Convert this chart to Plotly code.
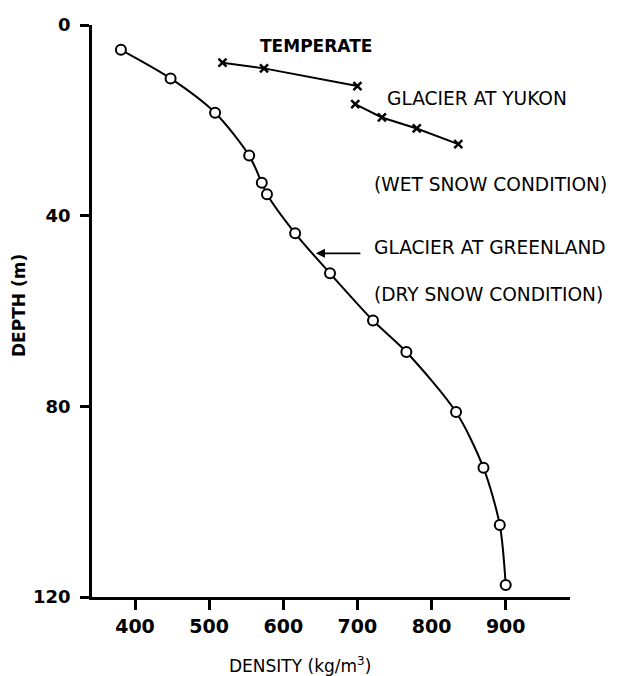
import plotly.graph_objects as go

# Glacier at Greenland (dry snow condition)
greenland_density = [381, 448, 508, 554, 571, 578, 616, 663, 721, 766, 833, 870, 892, 900]
greenland_depth = [5.2, 11.2, 18.4, 27.4, 33.1, 35.5, 43.7, 52.1, 62.0, 68.6, 81.2, 92.9, 104.9, 117.5]

# Temperate glacier at Yukon (wet snow condition) - two segments
yukon_upper_density = [518, 574, 700]
yukon_upper_depth = [7.9, 9.1, 12.8]
yukon_lower_density = [697, 733, 780, 836]
yukon_lower_depth = [16.6, 19.4, 21.7, 25.0]

x_ticks = [400, 500, 600, 700, 800, 900]
y_ticks = [0, 40, 80, 120]
y_ticktext = ["0", "40", "80", "120"]

FONT = "DejaVu Sans"

fig = go.Figure()

fig.add_trace(go.Scatter(
    x=greenland_density, y=greenland_depth, mode="lines+markers",
    line=dict(color="black", width=2, shape="spline", smoothing=0.8),
    marker=dict(symbol="circle", size=10, color="white",
                line=dict(color="black", width=2)),
    showlegend=False, hoverinfo="skip"))

for xs, ys in [(yukon_upper_density, yukon_upper_depth),
               (yukon_lower_density, yukon_lower_depth)]:
    fig.add_trace(go.Scatter(
        x=xs, y=ys, mode="lines+markers",
        line=dict(color="black", width=2),
        marker=dict(symbol="x-thin", size=8, color="black",
                    line=dict(color="black", width=2.5)),
        showlegend=False, hoverinfo="skip"))

ann_font = dict(family=FONT, size=18.6, color="black")
annotations = [
    dict(x=566, y=4.3, text="<b>TEMPERATE</b>", xanchor="left", yanchor="middle",
         showarrow=False, font=dict(family=FONT, size=17, color="black")),
    dict(x=737, y=15.5, text="GLACIER AT YUKON", xanchor="left", yanchor="middle",
         showarrow=False, font=ann_font),
    dict(x=720, y=33.5, text="(WET SNOW CONDITION)", xanchor="left", yanchor="middle",
         showarrow=False, font=ann_font),
    dict(x=720, y=46.7, text="GLACIER AT GREENLAND", xanchor="left", yanchor="middle",
         showarrow=False, font=ann_font),
    dict(x=720, y=56.5, text="(DRY SNOW CONDITION)", xanchor="left", yanchor="middle",
         showarrow=False, font=ann_font),
    dict(x=644, y=47.9, ax=706, ay=47.9, axref="x", ayref="y", text="",
         showarrow=True, arrowhead=2, arrowsize=1, arrowwidth=1.8, arrowcolor="black"),
    dict(xref="paper", yref="paper", x=0.435, y=-0.119, text="DENSITY (kg/m<sup>3</sup>)",
         xanchor="center", yanchor="middle", showarrow=False,
         font=dict(family=FONT, size=17, color="black")),
    dict(xref="paper", yref="paper", x=-0.1527, y=0.5087, text="<b>DEPTH (m)</b>",
         textangle=-90, xanchor="center", yanchor="middle", showarrow=False,
         font=dict(family=FONT, size=17, color="black")),
]

# The page body adds an 8 px margin at the left/top, so the figure is offset by 8 px
fig.update_layout(
    width=604, height=668,
    margin=dict(l=84, r=42, t=17, b=79, autoexpand=False),
    paper_bgcolor="white", plot_bgcolor="white",
    annotations=annotations,
    xaxis=dict(range=[342, 986.7], tickvals=x_ticks, showline=True, linecolor="black",
               linewidth=2.5, ticks="outside", ticklen=10, tickwidth=2.5, tickcolor="black",
               showgrid=False, zeroline=False, automargin=False,
               tickfont=dict(family=FONT, size=19, color="black", weight="bold")),
    yaxis=dict(range=[120, 0], tickvals=y_ticks, ticktext=y_ticktext, showline=True,
               linecolor="black", linewidth=2.5, ticks="outside", ticklen=9, tickwidth=2.5,
               tickcolor="black", showgrid=False, zeroline=False, ticklabelstandoff=6,
               automargin=False,
               tickfont=dict(family=FONT, size=18, color="black", weight="bold")),
)

fig.write_html("out.html")
